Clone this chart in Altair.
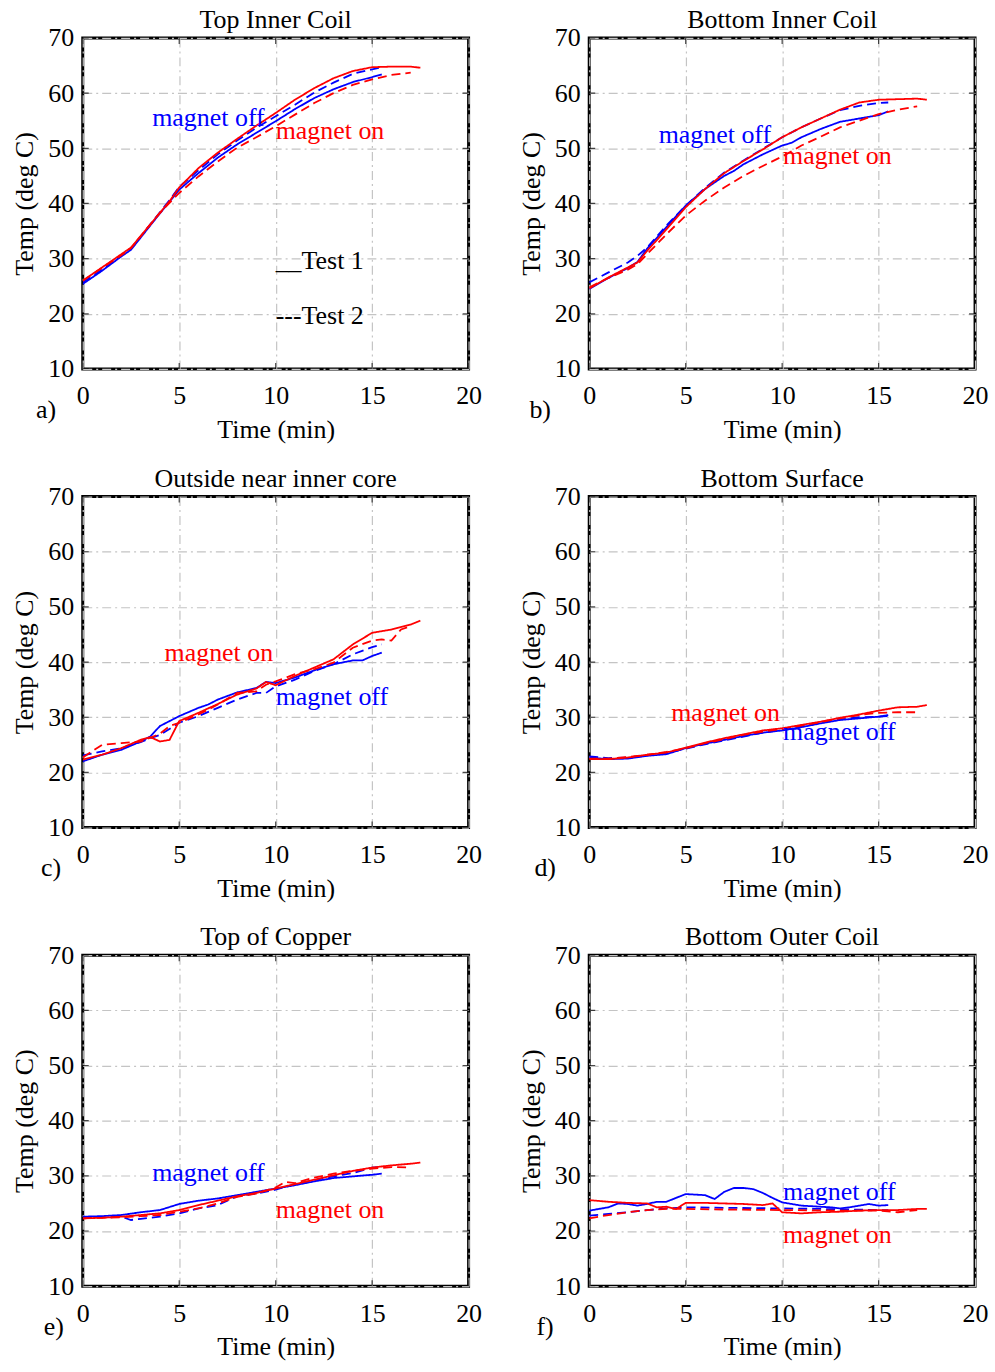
import altair as alt
import pandas as pd

FONT = "Liberation Serif"
RED = "#ff0000"
BLUE = "#0000ff"

X_TICKS = [0, 5, 10, 15, 20]
Y_TICKS = [10, 20, 30, 40, 50, 60, 70]
X_TITLE = "Time (min)"
Y_TITLE = "Temp (deg C)"

PANEL_LETTERS = ["a)", "b)", "c)", "d)", "e)", "f)"]
PANEL_TITLES = ["Top Inner Coil", "Bottom Inner Coil", "Outside near inner core",
                "Bottom Surface", "Top of Copper", "Bottom Outer Coil"]

# ---- panel a: Top Inner Coil  (time min, temp deg C) ----
a_on1 = [(0, 26.0), (1, 28.4), (2, 30.8), (2.5, 32.0), (3, 34.1), (3.5, 36.2), (4, 38.3), (4.5, 40.4),
         (5, 42.9), (6, 46.4), (7, 49.2), (8, 51.7), (9, 54.1), (10, 56.4), (11, 58.8), (12, 60.9),
         (13, 62.7), (14, 64.0), (15, 64.7), (16, 64.8), (17, 64.8), (17.5, 64.6)]
a_off1 = [(0, 25.4), (1, 27.8), (2, 30.4), (2.5, 31.6), (3, 33.8), (3.5, 36.0), (4, 38.2), (4.5, 40.3),
          (5, 42.5), (6, 45.5), (7, 48.3), (8, 50.7), (9, 52.8), (10, 54.9), (11, 57.1), (12, 59.1),
          (13, 60.7), (14, 62.0), (15, 62.9), (15.5, 63.4)]
a_off2 = [(0, 25.7), (1, 28.0), (2, 30.6), (2.5, 31.8), (3, 34.0), (4, 38.4), (4.5, 40.6), (5, 43.0),
          (6, 46.0), (7, 48.9), (8, 51.4), (9, 53.7), (10, 55.8), (11, 57.9), (12, 60.1), (13, 61.9),
          (14, 63.5), (15, 64.3), (15.5, 64.7)]
a_on2 = [(0, 26.0), (1, 28.3), (2, 30.6), (2.5, 31.9), (3, 34.0), (4, 38.3), (4.5, 40.1), (5, 41.9),
         (6, 44.9), (7, 47.6), (8, 50.1), (9, 52.0), (10, 54.0), (11, 56.1), (12, 58.2), (13, 60.0),
         (14, 61.5), (15, 62.5), (16, 63.3), (17, 63.7)]

# ---- panel b: Bottom Inner Coil ----
b_on1 = [(0, 24.6), (1, 26.6), (2, 28.4), (2.5, 29.3), (3, 31.4), (4, 35.3), (5, 39.3), (6, 42.6),
         (7, 45.5), (8, 47.7), (9, 49.8), (10, 52.0), (11, 53.8), (12, 55.4), (13, 57.0), (14, 58.3),
         (15, 58.8), (16, 58.9), (17, 59.0), (17.5, 58.8)]
b_off1 = [(0, 24.5), (1, 26.5), (2, 28.3), (2.5, 29.4), (3, 31.8), (4, 35.7), (5, 39.6), (6, 42.6),
          (7, 45.0), (7.5, 45.9), (8, 47.1), (9, 48.9), (10, 50.5), (10.5, 51.0), (11, 52.0),
          (12, 53.5), (13, 54.8), (14, 55.4), (15, 56.0), (15.5, 56.7)]
b_off2 = [(0, 25.7), (1, 27.5), (2, 29.3), (2.5, 30.5), (3, 32.0), (4, 36.0), (5, 39.6), (6, 42.8),
          (7, 45.6), (8, 47.8), (9, 49.9), (10, 52.0), (11, 53.8), (12, 55.4), (13, 56.9), (14, 57.7),
          (15, 58.2), (15.5, 58.3)]
b_on2 = [(0, 24.8), (1, 26.5), (2, 28.0), (2.5, 29.0), (3, 30.8), (4, 34.4), (5, 37.8), (6, 40.5),
         (7, 42.9), (8, 45.0), (9, 46.8), (10, 48.5), (11, 50.5), (12, 52.1), (13, 53.8), (14, 55.0),
         (15, 56.2), (16, 57.0), (17, 57.6)]

# ---- panel c: Outside near inner core ----
c_on1 = [(0, 22.3), (1, 23.2), (2, 24.4), (3, 25.9), (3.5, 26.4), (4, 25.6), (4.5, 25.9), (5, 29.3),
         (6, 30.8), (7, 32.4), (8, 34.1), (9, 35.2), (9.5, 36.4), (10, 35.8), (11, 37.5), (12, 39.0),
         (13, 40.5), (14, 43.2), (15, 45.3), (16, 45.9), (17, 46.8), (17.5, 47.5)]
c_off1 = [(0, 22.0), (1, 23.2), (2, 24.1), (3, 25.6), (3.5, 26.5), (4, 28.4), (5, 30.2), (6, 31.7),
          (6.5, 32.3), (7, 33.2), (8, 34.5), (9, 35.3), (9.5, 36.4), (10, 36.2), (11, 37.2), (12, 38.5),
          (13, 39.6), (14, 40.3), (14.5, 40.3), (15, 41.1), (15.5, 41.7)]
c_off2 = [(0, 23.1), (1, 23.8), (2, 24.4), (3, 25.5), (3.5, 26.2), (4, 26.8), (5, 29.0), (6, 30.2),
          (7, 31.7), (8, 33.2), (9, 34.4), (9.5, 34.4), (10, 35.6), (11, 36.8), (12, 38.4), (13, 39.6),
          (14, 41.4), (15, 42.7), (15.5, 43.2)]
c_on2 = [(0, 22.7), (1, 25.0), (2, 25.3), (3, 25.6), (4, 27.0), (4.5, 28.4), (5, 29.0), (6, 30.5),
         (7, 32.3), (8, 34.4), (9, 34.7), (9.5, 35.9), (10, 36.5), (11, 37.8), (12, 38.7), (13, 39.9),
         (14, 42.6), (15, 43.9), (15.5, 44.1), (16, 43.9), (16.5, 45.9), (17, 46.5)]

# ---- panel d: Bottom Surface ----
d_on1 = [(0, 22.4), (1, 22.4), (2, 22.7), (3, 23.2), (4, 23.6), (5, 24.5), (6, 25.4), (7, 26.2),
         (8, 26.9), (9, 27.6), (10, 28.0), (11, 28.6), (12, 29.2), (13, 29.9), (14, 30.5), (15, 31.2),
         (16, 31.8), (17, 31.9), (17.5, 32.2)]
d_off1 = [(0, 22.7), (1, 22.4), (2, 22.5), (3, 23.0), (4, 23.3), (5, 24.4), (6, 25.2), (7, 25.9),
          (8, 26.6), (9, 27.2), (10, 27.6), (11, 28.2), (12, 28.9), (13, 29.5), (14, 29.8), (15, 30.1),
          (15.5, 30.4)]
d_off2 = [(0, 22.9), (1, 22.6), (2, 22.7), (3, 23.1), (4, 23.5), (5, 24.3), (6, 25.1), (7, 25.8),
          (8, 26.5), (9, 27.2), (10, 27.7), (11, 28.3), (12, 29.0), (13, 29.6), (14, 30.0), (15, 30.1),
          (15.5, 30.2)]
d_on2 = [(0, 22.5), (1, 22.5), (2, 22.8), (3, 23.2), (4, 23.7), (5, 24.4), (6, 25.3), (7, 26.0),
         (8, 26.8), (9, 27.4), (10, 27.9), (11, 28.5), (12, 29.1), (13, 29.8), (14, 30.4), (15, 30.8),
         (16, 30.9), (17, 30.9)]

# ---- panel e: Top of Copper ----
e_on1 = [(0, 22.3), (1, 22.4), (2, 22.6), (3, 22.9), (4, 23.2), (5, 23.8), (6, 24.7), (7, 25.5),
         (8, 26.3), (9, 26.9), (10, 27.7), (11, 28.5), (12, 29.3), (13, 30.1), (14, 30.9), (15, 31.5),
         (16, 31.9), (17, 32.2), (17.5, 32.4)]
e_off1 = [(0, 22.6), (1, 22.7), (2, 22.9), (3, 23.4), (4, 23.8), (5, 24.9), (6, 25.5), (7, 25.9),
          (8, 26.5), (9, 27.1), (10, 27.7), (11, 28.3), (12, 29.0), (13, 29.6), (14, 29.9), (15, 30.2),
          (15.5, 30.4)]
e_off2 = [(0, 22.5), (1, 22.5), (2, 22.6), (2.5, 22.0), (3, 22.2), (4, 22.6), (5, 23.2), (6, 24.1),
          (7, 24.7), (7.5, 25.5), (8, 26.3), (9, 26.8), (10, 27.5), (11, 28.5), (12, 29.2), (13, 29.9),
          (14, 30.5), (15, 31.5), (15.5, 31.6)]
e_on2 = [(0, 22.3), (1, 22.4), (2, 22.5), (3, 22.7), (4, 22.9), (5, 23.5), (6, 24.1), (7, 25.0),
         (8, 26.2), (9, 26.8), (10, 27.9), (10.5, 28.9), (11, 28.7), (12, 29.7), (13, 30.4), (14, 30.9),
         (15, 31.3), (16, 31.6), (17, 31.5)]

# ---- panel f: Bottom Outer Coil ----
f_on1 = [(0, 25.6), (1, 25.3), (2, 25.1), (3, 25.0), (3.5, 24.3), (4, 24.4), (4.5, 24.0), (5, 25.1),
         (6, 25.1), (7, 25.0), (8, 24.9), (9, 24.7), (9.5, 25.0), (10, 23.4), (11, 23.2), (12, 23.4),
         (13, 23.5), (14, 23.7), (15, 23.8), (16, 23.8), (17, 24.0), (17.5, 24.0)]
f_off1 = [(0, 23.7), (1, 24.3), (1.5, 25.0), (2, 24.9), (2.5, 24.6), (3, 24.9), (3.5, 25.3), (4, 25.3),
          (4.5, 26.0), (5, 26.7), (6, 26.5), (6.5, 25.8), (7, 27.1), (7.5, 27.8), (8, 27.8), (8.5, 27.6),
          (9, 26.9), (9.5, 26.0), (10, 25.2), (11, 24.6), (12, 24.4), (12.5, 24.3), (13, 24.1),
          (13.5, 24.3), (14, 24.6), (14.5, 24.9), (15, 24.6), (15.5, 24.7)]
f_off2 = [(0, 22.8), (1, 23.1), (2, 23.4), (3, 23.8), (4, 24.1), (5, 24.3), (7, 24.2), (10, 24.1),
          (12, 24.0), (15, 23.8), (15.5, 23.8)]
f_on2 = [(0, 22.3), (1, 22.9), (2, 23.4), (3, 23.8), (4, 24.0), (5, 24.0), (7, 23.9), (10, 23.8),
         (13, 23.7), (15, 23.7), (16, 23.4), (17, 23.8)]

# ---- text annotations: (text, kind, time, temp) ----
a_notes = [("magnet off", "off", 3.6, 54.1), ("magnet on", "on", 10.0, 51.7),
           ("__Test 1", "legend", 10.0, 28.1), ("---Test 2", "legend", 10.0, 18.1)]
b_notes = [("magnet off", "off", 3.6, 50.9), ("magnet on", "on", 10.05, 47.1)]
c_notes = [("magnet on", "on", 4.24, 40.2), ("magnet off", "off", 10.0, 32.2)]
d_notes = [("magnet on", "on", 4.25, 29.3), ("magnet off", "off", 10.05, 25.9)]
e_notes = [("magnet off", "off", 3.6, 29.0), ("magnet on", "on", 10.0, 22.3)]
f_notes = [("magnet off", "off", 10.05, 25.7), ("magnet on", "on", 10.05, 17.8)]

LETTER_DX = [-47, -60, -42, -55, -39, -53]
NOTE_COLORS = {"on": RED, "off": BLUE, "legend": "black"}

W, H = 387, 332
FS = 26


def xenc():
    return alt.X("t:Q", scale=alt.Scale(domain=[X_TICKS[0], X_TICKS[-1]], nice=False, zero=False),
                 axis=alt.Axis(values=X_TICKS, title=X_TITLE, labelFlush=False, labelPadding=14,
                               titlePadding=8, format="d"))


def yenc():
    return alt.Y("T:Q", scale=alt.Scale(domain=[Y_TICKS[0], Y_TICKS[-1]], nice=False, zero=False),
                 axis=alt.Axis(values=Y_TICKS, title=Y_TITLE, labelPadding=9, titlePadding=10,
                               format="d"))


def to_df(pts, magnet, test):
    return pd.DataFrame({"t": [p[0] for p in pts], "T": [p[1] for p in pts],
                         "magnet": magnet, "test": test})


def panel(idx, on1, off1, off2, on2, notes):
    df = pd.concat([to_df(off1, "off", "Test 1"), to_df(off2, "off", "Test 2"),
                    to_df(on2, "on", "Test 2"), to_df(on1, "on", "Test 1")], ignore_index=True)
    df["key"] = df["magnet"] + df["test"]
    lines = alt.Chart(df).mark_line(strokeWidth=1.8, clip=True).encode(
        x=xenc(), y=yenc(),
        color=alt.Color("magnet:N", scale=alt.Scale(domain=["on", "off"], range=[RED, BLUE]), legend=None),
        strokeDash=alt.StrokeDash("test:N", scale=alt.Scale(domain=["Test 1", "Test 2"],
                                                            range=[[1, 0], [9, 5]]), legend=None),
        detail="key:N",
        order="t:Q",
    )
    xt = pd.DataFrame({"t": X_TICKS * 2,
                       "T": [Y_TICKS[0]] * len(X_TICKS) + [Y_TICKS[-1]] * len(X_TICKS)})
    yt = pd.DataFrame({"t": [X_TICKS[0]] * len(Y_TICKS) + [X_TICKS[-1]] * len(Y_TICKS),
                       "T": Y_TICKS * 2})
    xticks = alt.Chart(xt).mark_tick(orient="vertical", size=12, thickness=1.2, color="black",
                                     clip=True).encode(x=xenc(), y=yenc())
    yticks = alt.Chart(yt).mark_tick(orient="horizontal", size=12, thickness=1.2, color="black",
                                     clip=True).encode(x=xenc(), y=yenc())
    layers = [lines, xticks, yticks]
    for txt, kind, t, T in notes:
        ndf = pd.DataFrame({"t": [t], "T": [T], "label": [txt]})
        layers.append(alt.Chart(ndf).mark_text(align="left", baseline="alphabetic", font=FONT,
                                               fontSize=FS, color=NOTE_COLORS[kind]).encode(
            x=xenc(), y=yenc(), text="label:N"))
    ldf = pd.DataFrame({"label": [PANEL_LETTERS[idx]]})
    layers.append(alt.Chart(ldf).mark_text(align="left", baseline="middle", font=FONT, fontSize=FS,
                                           color="black").encode(
        x=alt.value(LETTER_DX[idx]), y=alt.value(H + 41), text="label:N"))
    return alt.layer(*layers).properties(
        width=W, height=H,
        title=alt.TitleParams(PANEL_TITLES[idx], font=FONT, fontSize=FS, fontWeight="normal",
                              color="black", offset=-8, anchor="middle"))


panels = [
    panel(0, a_on1, a_off1, a_off2, a_on2, a_notes),
    panel(1, b_on1, b_off1, b_off2, b_on2, b_notes),
    panel(2, c_on1, c_off1, c_off2, c_on2, c_notes),
    panel(3, d_on1, d_off1, d_off2, d_on2, d_notes),
    panel(4, e_on1, e_off1, e_off2, e_on2, e_notes),
    panel(5, f_on1, f_off1, f_off2, f_on2, f_notes),
]

chart = alt.concat(*panels, columns=2, spacing={"row": 128, "column": 121}, bounds="flush").properties(
    padding={"left": 10, "top": 3, "right": 5, "bottom": 5},
    background="white",
).configure_view(
    stroke="black", strokeWidth=3
).configure_axis(
    labelFont=FONT, labelFontSize=FS, labelColor="black",
    titleFont=FONT, titleFontSize=FS, titleFontWeight="normal", titleColor="black",
    domain=False, ticks=False, grid=True,
    gridColor="#c4c4c4", gridDash=[9, 4, 2, 4], gridWidth=1.2, gridOpacity=1,
)

chart.save("out.html", embed_options={"renderer": "svg", "actions": False})
